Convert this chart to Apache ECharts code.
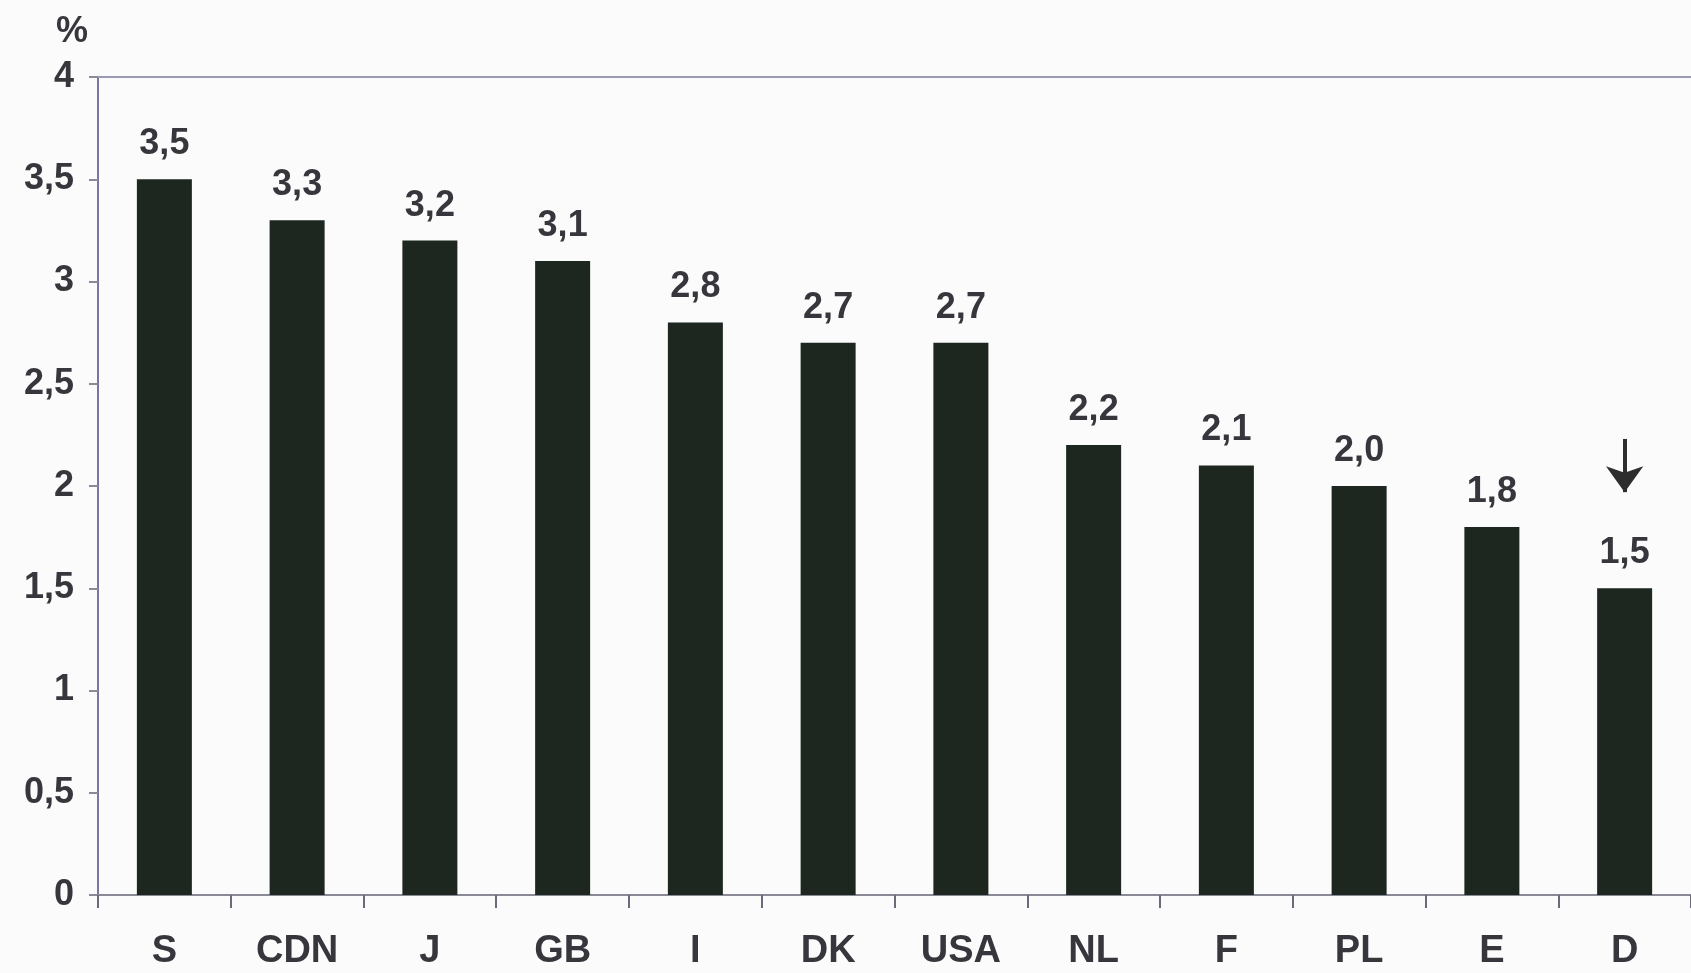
<!DOCTYPE html>
<html>
<head>
<meta charset="utf-8">
<script src="https://cdn.jsdelivr.net/npm/echarts@6/dist/echarts.min.js"></script>
<style>
  html, body { margin: 0; padding: 0; background: #fbfbfb; }
  #chart { width: 1691px; height: 973px; }
</style>
</head>
<body>
<div id="chart"></div>
<script>
// Country codes along the x axis
const countries = ['S', 'CDN', 'J', 'GB', 'I', 'DK', 'USA', 'NL', 'F', 'PL', 'E', 'D'];
// Percentage per country
const values = [3.5, 3.3, 3.2, 3.1, 2.8, 2.7, 2.7, 2.2, 2.1, 2.0, 1.8, 1.5];
// Y axis range and step (%)
const yMin = 0, yMax = 4, yStep = 0.5;
// Arrow pointing down at the highlighted country
const arrowCountry = 'D';
const arrowFrom = 2.23, arrowTo = 1.97;

// Comma decimals: axis ticks drop a trailing ",0", bar values always keep one decimal
const axisFmt = v => (Number.isInteger(v) ? String(v) : v.toFixed(1)).replace('.', ',');
const valueFmt = v => v.toFixed(1).replace('.', ',');
const textColor = '#36363c';
const fontFamily = '"Liberation Sans", Arial, Helvetica, sans-serif';

const chart = echarts.init(document.getElementById('chart'));
chart.setOption({
  backgroundColor: '#fbfbfb',
  animation: false,
  grid: { left: 98, top: 77, bottom: 78, width: 1597, containLabel: false },
  xAxis: [{
    type: 'category',
    data: countries,
    boundaryGap: true,
    axisLine: { show: true, lineStyle: { color: '#8a8a96', width: 2 } },
    axisTick: { show: true, length: 13, inside: false, lineStyle: { color: '#6a6a7a', width: 2 } },
    axisLabel: { color: textColor, fontSize: 38, fontWeight: 'bold', fontFamily, margin: 38 },
    splitLine: { show: false }
  }, {
    type: 'category',
    data: countries,
    position: 'top',
    axisLine: { show: true, lineStyle: { color: '#9a9ab4', width: 2 } },
    axisTick: { show: false },
    axisLabel: { show: false },
    splitLine: { show: false }
  }],
  yAxis: {
    type: 'value',
    min: yMin, max: yMax, interval: yStep,
    name: '%',
    nameLocation: 'end',
    nameGap: 27,
    nameTextStyle: { color: textColor, fontSize: 36, fontWeight: 'bold', fontFamily, align: 'right', padding: [0, 10, 0, 0] },
    axisLine: { show: true, lineStyle: { color: '#7a74a0', width: 2 } },
    axisTick: { show: true, length: 9, lineStyle: { color: '#8a8a96', width: 2 } },
    axisLabel: { color: textColor, fontSize: 36, fontWeight: 'bold', fontFamily, margin: 24, formatter: v => axisFmt(v) },
    splitLine: { show: false }
  },
  series: [{
    type: 'bar',
    data: values,
    barWidth: 55,
    itemStyle: { color: '#1d271f' },
    label: {
      show: true,
      position: 'top',
      distance: 17,
      color: textColor,
      fontSize: 36,
      fontWeight: 'bold',
      fontFamily,
      formatter: p => valueFmt(p.value)
    },
    markLine: {
      silent: true,
      symbol: ['none', 'arrow'],
      symbolSize: [28, 26],
      label: { show: false },
      lineStyle: { color: '#2e2e2e', width: 4, type: 'solid' },
      data: [[{ coord: [arrowCountry, arrowFrom] }, { coord: [arrowCountry, arrowTo] }]]
    }
  }]
});
</script>
</body>
</html>
